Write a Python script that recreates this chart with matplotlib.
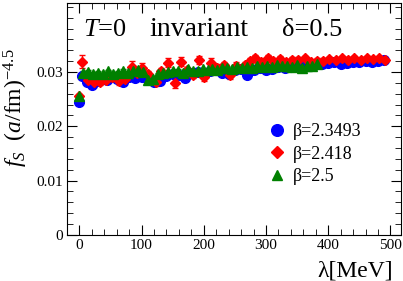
import matplotlib.pyplot as plt
import numpy as np

plt.rcParams['font.family'] = 'Liberation Serif'
plt.rcParams['mathtext.fontset'] = 'custom'
plt.rcParams['mathtext.rm'] = 'Liberation Serif'
plt.rcParams['mathtext.it'] = 'Liberation Serif:italic'

# Data
lam_b = [0, 4, 12, 20, 28, 36, 44, 52, 60, 70, 80, 90, 100, 110, 120, 130, 140, 150,
         160, 170, 180, 190, 200, 210, 220, 230, 240, 250, 260, 270, 280, 290, 300,
         310, 320, 330, 340, 350, 360, 370, 380, 390, 400, 410, 420, 430, 440, 450,
         460, 470, 480, 490]
f_b = [0.0245, 0.0293, 0.0282, 0.0277, 0.0284, 0.0288, 0.0286, 0.0290, 0.0287, 0.0282,
       0.0290, 0.0289, 0.0291, 0.0288, 0.0282, 0.0284, 0.0292, 0.0296, 0.0295, 0.0289,
       0.0298, 0.0300, 0.0297, 0.0302, 0.0303, 0.0298, 0.0297, 0.0303, 0.0306, 0.0295,
       0.0304, 0.0307, 0.0303, 0.0306, 0.0309, 0.0307, 0.0310, 0.0312, 0.0309, 0.0312,
       0.0315, 0.0314, 0.0316, 0.0318, 0.0315, 0.0316, 0.0319, 0.0318, 0.0320, 0.0319,
       0.0321, 0.0322]
e_b = [0.0003] * len(lam_b)

lam_r = [0, 4, 14, 24, 33, 43, 53, 63, 73, 84, 92, 100, 110, 124, 132, 142, 153, 164,
         173, 183, 193, 201, 212, 222, 232, 242, 252, 266, 275, 282, 292, 303, 312, 322,
         332, 342, 352, 362, 372, 382, 392, 402, 412, 422, 432, 442, 452, 462, 472, 482,
         491]
f_r = [0.0255, 0.0319, 0.0286, 0.0282, 0.0282, 0.0285, 0.0291, 0.0283, 0.0287, 0.0310,
       0.0298, 0.0308, 0.0296, 0.0282, 0.0301, 0.0317, 0.0280, 0.0319, 0.0304, 0.0295,
       0.0322, 0.0290, 0.0317, 0.0308, 0.0313, 0.0295, 0.0312, 0.0313, 0.0320, 0.0326,
       0.0318, 0.0326, 0.0321, 0.0324, 0.0319, 0.0323, 0.0322, 0.0325, 0.0318, 0.0320,
       0.0321, 0.0324, 0.0322, 0.0326, 0.0323, 0.0325, 0.0322, 0.0326, 0.0324, 0.0325,
       0.0323]
e_r = [0.0004, 0.0012, 0.0008, 0.0009, 0.0006, 0.0006, 0.0006, 0.0006, 0.0006, 0.0010,
       0.0006, 0.0008, 0.0006, 0.0008, 0.0006, 0.0008, 0.0010, 0.0008, 0.0006, 0.0006,
       0.0008, 0.0007, 0.0008, 0.0006, 0.0006, 0.0007, 0.0006, 0.0006, 0.0006, 0.0006,
       0.0005, 0.0005, 0.0005, 0.0005, 0.0005, 0.0005, 0.0005, 0.0005, 0.0005, 0.0005,
       0.0005, 0.0004, 0.0004, 0.0004, 0.0004, 0.0004, 0.0004, 0.0004, 0.0004, 0.0004,
       0.0004]

lam_g = [0, 6, 14, 22, 30, 38, 46, 54, 62, 70, 78, 86, 94, 102, 110, 118, 126, 134,
         142, 150, 158, 166, 174, 182, 190, 198, 206, 214, 222, 230, 238, 246, 254, 262,
         270, 278, 286, 294, 302, 310, 318, 326, 334, 342, 350, 358, 366, 374, 382]
f_g = [0.0255, 0.0298, 0.0300, 0.0297, 0.0299, 0.0296, 0.0301, 0.0297, 0.0299, 0.0302,
       0.0298, 0.0301, 0.0303, 0.0300, 0.0285, 0.0287, 0.0296, 0.0298, 0.0300, 0.0301,
       0.0302, 0.0299, 0.0305, 0.0302, 0.0301, 0.0305, 0.0303, 0.0306, 0.0304, 0.0307,
       0.0308, 0.0305, 0.0309, 0.0307, 0.0310, 0.0308, 0.0311, 0.0309, 0.0312, 0.0310,
       0.0313, 0.0311, 0.0312, 0.0310, 0.0313, 0.0307, 0.0312, 0.0311, 0.0314]
e_g = [0.0003] * len(lam_g)
e_g[-8] = 0.0007

labels = ['β=2.3493', 'β=2.418', 'β=2.5']

fig = plt.figure(figsize=(4.03, 2.81), dpi=100)
ax = fig.add_axes([0.166, 0.164, 0.829, 0.825])

hb = ax.errorbar(lam_b, f_b, yerr=e_b, fmt='o', color='#0000ff', ms=7, capsize=2,
                 elinewidth=1)
hr = ax.errorbar(lam_r, f_r, yerr=e_r, fmt='D', color='#ff0000', ms=5, capsize=2.5,
                 elinewidth=1)
hg = ax.errorbar(lam_g, f_g, yerr=e_g, fmt='^', color='#008000', ms=6.5, capsize=2.5,
                 elinewidth=1)

ax.set_xlim(-20, 517)
ax.set_ylim(0, 0.0427)
ax.set_xticks([0, 100, 200, 300, 400, 500])
ax.set_xticks(np.arange(-20, 517, 20), minor=True)
ax.set_yticks([0, 0.01, 0.02, 0.03])
ax.set_yticklabels(['0', '0.01', '0.02', '0.03'])
ax.set_yticks(np.arange(0, 0.0427, 0.002), minor=True)
ax.tick_params(which='both', direction='in', top=True, right=True, labelsize=11, pad=3)
ax.tick_params(which='major', length=7)
ax.tick_params(which='minor', length=4)

ax.text(0.048, 0.858, r'$T$=$0$', transform=ax.transAxes, fontsize=19, va='baseline')
ax.text(0.248, 0.858, 'invariant', transform=ax.transAxes, fontsize=20, va='baseline')
ax.text(0.643, 0.858, 'δ=0.5', transform=ax.transAxes, fontsize=19, va='baseline')

ax.set_xlabel('λ[MeV]', fontsize=17)
ax.xaxis.set_label_coords(0.975, -0.11)
ax.xaxis.label.set_ha('right')
ax.set_ylabel(r'$f_S\ \ (a/\mathrm{fm})^{-4.5}$', fontsize=17)
ax.yaxis.set_label_coords(-0.11, 0.55)

ax.legend([hb[0], hr[0], hg[0]], labels, loc='upper left', bbox_to_anchor=(0.575, 0.52),
          frameon=False, fontsize=13, handlelength=1.0, handletextpad=0.4,
          labelspacing=0.3, borderpad=0, markerscale=1.2)

fig.savefig('out.png', dpi=100)
